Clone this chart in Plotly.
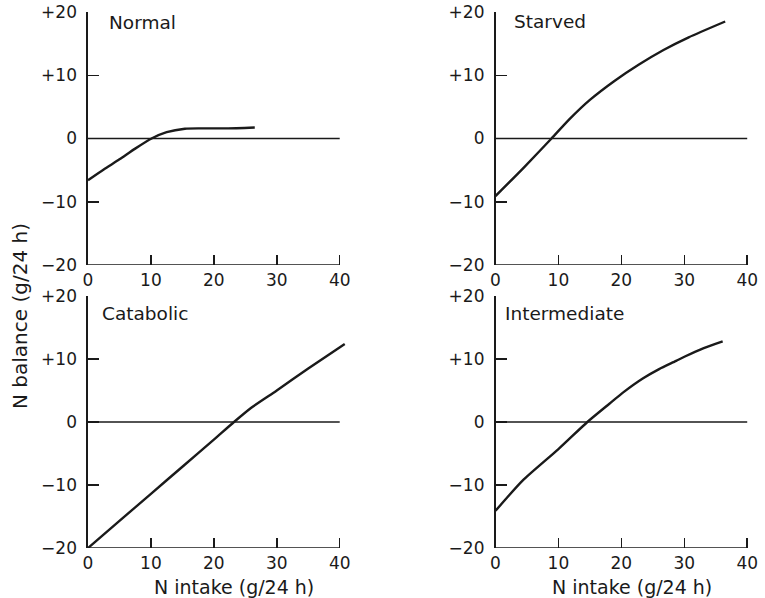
import plotly.graph_objects as go

# ---- data ----
normal_x = [0, 2.5, 5, 7.5, 10.1, 12.5, 15.4, 18, 22, 26.5]
normal_y = [-6.6, -4.9, -3.3, -1.6, 0, 1.0, 1.55, 1.6, 1.6, 1.75]

starved_x = [0, 4.5, 8.9, 11.8, 15, 18.9, 22.8, 26.7, 30.7, 36.5]
starved_y = [-9.1, -4.6, 0, 3.1, 6.1, 9.1, 11.7, 14.0, 16.0, 18.5]

catabolic_x = [0, 5, 10, 15, 20, 23.2, 26, 30, 35, 40.8]
catabolic_y = [-20, -15.7, -11.4, -7.1, -2.8, 0, 2.3, 5.0, 8.5, 12.4]

intermediate_x = [0, 4.3, 10, 14.6, 18.1, 20.3, 23.4, 26, 28.7, 30.1, 33, 36.1]
intermediate_y = [-14.1, -9.3, -4.3, 0, 2.9, 4.7, 6.9, 8.4, 9.7, 10.4, 11.7, 12.8]

panel_names = ["Normal", "Starved", "Catabolic", "Intermediate"]
x_ticks = [0, 10, 20, 30, 40]
x_ticktext = ["0", "10", "20", "30", "40"]
y_ticks = [-20, -10, 0, 10, 20]
y_ticktext = ["\u221220", "\u221210", "0", "+10", "+20"]
x_title = "N intake (g/24 h)"
y_title = "N balance (g/24 h)"

# ---- layout ----
W, H = 765, 598
INK = "#1a1a1a"
FONT = "DejaVu Sans"

col_x = [(88 / W, 346 / W), (495.5 / W, 753.5 / W)]
row_y = [((H - 265) / H, (H - 12) / H), ((H - 548) / H, (H - 296) / H)]

series = [
    (normal_x, normal_y),
    (starved_x, starved_y),
    (catabolic_x, catabolic_y),
    (intermediate_x, intermediate_y),
]

fig = go.Figure()
layout = dict(
    width=W, height=H,
    margin=dict(l=0, r=0, t=0, b=0, autoexpand=False),
    paper_bgcolor="white", plot_bgcolor="white",
    showlegend=False,
    font=dict(family=FONT, size=17, color=INK),
)
shapes = []
for i, (xs, ys) in enumerate(series):
    r, c = divmod(i, 2)
    n = "" if i == 0 else str(i + 1)
    xa, ya = "x" + n, "y" + n
    fig.add_trace(go.Scatter(
        x=xs, y=ys, mode="lines", xaxis=xa, yaxis=ya,
        line=dict(color=INK, width=2.4, shape="spline", smoothing=0.6),
        hoverinfo="skip",
    ))
    layout["xaxis" + n] = dict(
        domain=list(col_x[c]), anchor=ya, range=[0, 41],
        tickvals=x_ticks, ticktext=x_ticktext,
        ticks="inside", ticklen=10, tickwidth=1.5, tickcolor=INK,
        showline=False, showgrid=False, zeroline=False,
        ticklabelstandoff=3, automargin=False,
        tickfont=dict(family=FONT, size=17, color=INK),
        fixedrange=True,
    )
    layout["yaxis" + n] = dict(
        domain=list(row_y[r]), anchor=xa, range=[-20, 20],
        tickvals=y_ticks, ticktext=y_ticktext,
        ticks="inside", ticklen=11, tickwidth=1.5, tickcolor=INK,
        showline=True, linewidth=1.6, linecolor=INK,
        showgrid=False, zeroline=False,
        ticklabelstandoff=6, automargin=False,
        tickfont=dict(family=FONT, size=17, color=INK),
        fixedrange=True,
    )
    # bottom axis line and zero line, from 0 to 40
    for yv, w in ((-20, 1.6), (0, 1.4)):
        shapes.append(dict(type="line", xref=xa, yref=ya,
                           x0=0, x1=40, y0=yv, y1=yv,
                           line=dict(color=INK, width=w)))

layout["shapes"] = shapes

label_pos = [(107, 23), (512, 22), (100, 313), (503, 313)]
annotations = []
for name, (px, py) in zip(panel_names, label_pos):
    annotations.append(dict(text=name, xref="paper", yref="paper",
                            x=px / W, y=(H - py) / H, xanchor="left",
                            yanchor="middle", showarrow=False,
                            font=dict(family=FONT, size=18.5, color=INK)))
for cx in (234, 632):
    annotations.append(dict(text=x_title, xref="paper", yref="paper",
                            x=cx / W, y=(H - 587) / H, xanchor="center",
                            yanchor="middle", showarrow=False,
                            font=dict(family=FONT, size=19, color=INK)))
annotations.append(dict(text=y_title, xref="paper", yref="paper",
                        x=20 / W, y=(H - 316) / H, textangle=-90,
                        xanchor="center", yanchor="middle", showarrow=False,
                        font=dict(family=FONT, size=20, color=INK)))
layout["annotations"] = annotations

fig.update_layout(**layout)
fig.write_html(
    "out.html",
    config={"displayModeBar": False, "staticPlot": True},
    post_script="document.body.style.margin='0';document.body.style.overflow='hidden';",
)
